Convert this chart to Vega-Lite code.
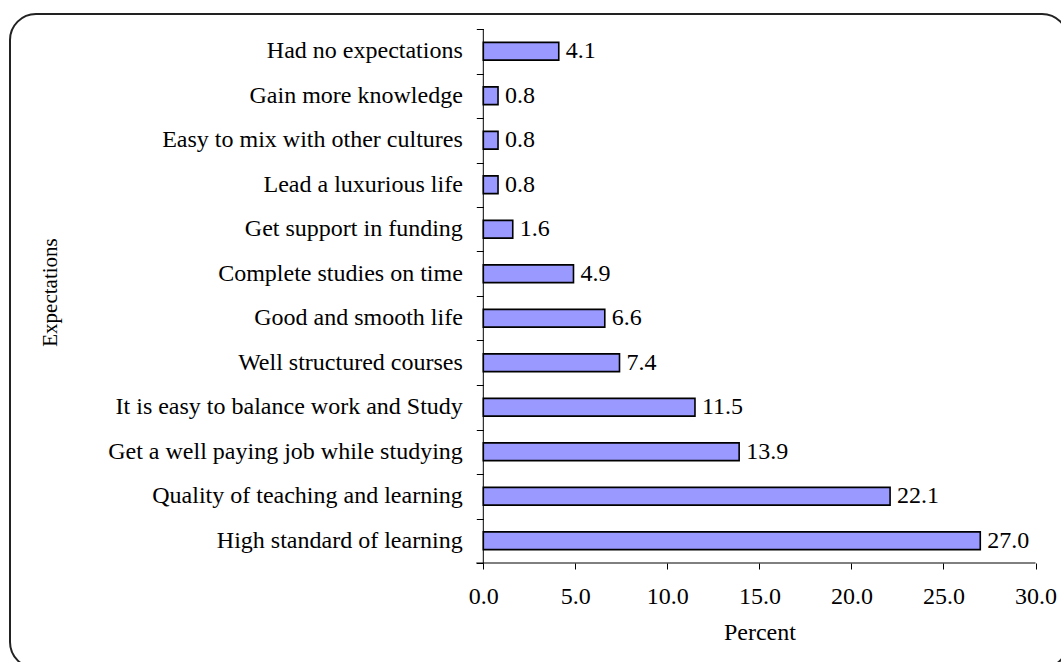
{
  "$schema": "https://vega.github.io/schema/vega-lite/v6.json",
  "width": 1058,
  "height": 654,
  "autosize": {"type": "none"},
  "padding": {"left": 10, "top": 14, "right": -7, "bottom": -6},
  "background": "white",
  "config": {
    "font": "Liberation Serif",
    "view": {"stroke": "#222222", "strokeWidth": 2, "cornerRadius": 26, "fill": "white"}
  },
  "resolve": {"scale": {"y": "independent"}, "axis": {"y": "independent"}},
  "layer": [
    {
      "data": {
        "values": [
          {"label": "Had no expectations", "value": 4.1},
          {"label": "Gain more knowledge", "value": 0.8},
          {"label": "Easy to mix with other cultures", "value": 0.8},
          {"label": "Lead a luxurious life", "value": 0.8},
          {"label": "Get support in funding", "value": 1.6},
          {"label": "Complete studies on time", "value": 4.9},
          {"label": "Good and smooth life", "value": 6.6},
          {"label": "Well structured courses", "value": 7.4},
          {"label": "It is easy to balance work and Study", "value": 11.5},
          {"label": "Get a well paying job while studying", "value": 13.9},
          {"label": "Quality of teaching and learning", "value": 22.1},
          {"label": "High standard of learning", "value": 27.0}
        ]
      },
      "encoding": {
        "y": {
          "field": "label",
          "type": "nominal",
          "sort": null,
          "scale": {"type": "band", "range": [15, 549], "paddingInner": 0.6, "paddingOuter": 0.3, "round": false},
          "axis": {
            "title": "Expectations",
            "orient": "left",
            "offset": -473.3,
            "domain": false,
            "ticks": false,
            "tickSize": 0,
            "labelPadding": 21,
            "labelFontSize": 24,
            "labelColor": "black",
            "labelLimit": 0,
            "labelFont": "Liberation Serif",
            "grid": false,
            "titleFont": "Liberation Serif",
            "titleFontSize": 21,
            "titleFontWeight": "normal",
            "titleColor": "black",
            "titleAngle": -90,
            "titleX": -433,
            "titleY": 278,
            "titleAlign": "center",
            "titleBaseline": "middle"
          }
        },
        "x": {
          "field": "value",
          "type": "quantitative",
          "scale": {"domain": [0, 30], "range": [473.3, 1025.5], "nice": false, "zero": false},
          "axis": {
            "values": [0, 5, 10, 15, 20, 25, 30],
            "format": ".1f",
            "orient": "bottom",
            "offset": -105,
            "domain": false,
            "ticks": true,
            "tickSize": 6,
            "tickColor": "black",
            "tickWidth": 1,
            "labelPadding": 15,
            "labelFontSize": 24,
            "labelColor": "black",
            "labelFont": "Liberation Serif",
            "labelFlush": false,
            "labelOverlap": false,
            "grid": false,
            "title": "Percent",
            "titleFont": "Liberation Serif",
            "titleFontSize": 24,
            "titleFontWeight": "normal",
            "titleColor": "black",
            "titlePadding": 12
          }
        }
      },
      "layer": [
        {
          "mark": {"type": "bar", "fill": "#9999FF", "stroke": "black", "strokeWidth": 1.6}
        },
        {
          "mark": {"type": "text", "align": "left", "baseline": "middle", "dx": 7, "fontSize": 24, "font": "Liberation Serif", "color": "black"},
          "encoding": {"text": {"field": "value", "type": "quantitative", "format": ".1f"}}
        }
      ]
    },
    {
      "data": {
        "values": [
          {"a": 0, "a2": 0, "b": 0, "b2": 12},
          {"a": -0.38, "a2": 30, "b": 0, "b2": 0}
        ]
      },
      "mark": {"type": "rule", "color": "black", "strokeWidth": 1},
      "encoding": {
        "x": {
          "field": "a",
          "type": "quantitative",
          "scale": {"domain": [0, 30], "range": [473.3, 1025.5], "nice": false, "zero": false},
          "axis": {
            "values": [0, 5, 10, 15, 20, 25, 30],
            "format": ".1f",
            "orient": "bottom",
            "offset": -105,
            "domain": false,
            "ticks": true,
            "tickSize": 6,
            "tickColor": "black",
            "tickWidth": 1,
            "labelPadding": 15,
            "labelFontSize": 24,
            "labelColor": "black",
            "labelFont": "Liberation Serif",
            "labelFlush": false,
            "labelOverlap": false,
            "grid": false,
            "title": "Percent",
            "titleFont": "Liberation Serif",
            "titleFontSize": 24,
            "titleFontWeight": "normal",
            "titleColor": "black",
            "titlePadding": 12
          }
        },
        "x2": {"field": "a2"},
        "y": {
          "field": "b",
          "type": "quantitative",
          "scale": {"domain": [0, 12], "range": [549, 15], "nice": false, "zero": false},
          "axis": {
            "orient": "left",
            "offset": -473.3,
            "values": [0, 1, 2, 3, 4, 5, 6, 7, 8, 9, 10, 11, 12],
            "labels": false,
            "domain": false,
            "ticks": true,
            "tickSize": 7,
            "tickColor": "black",
            "tickWidth": 1,
            "grid": false,
            "title": null
          }
        },
        "y2": {"field": "b2"}
      }
    }
  ]
}
